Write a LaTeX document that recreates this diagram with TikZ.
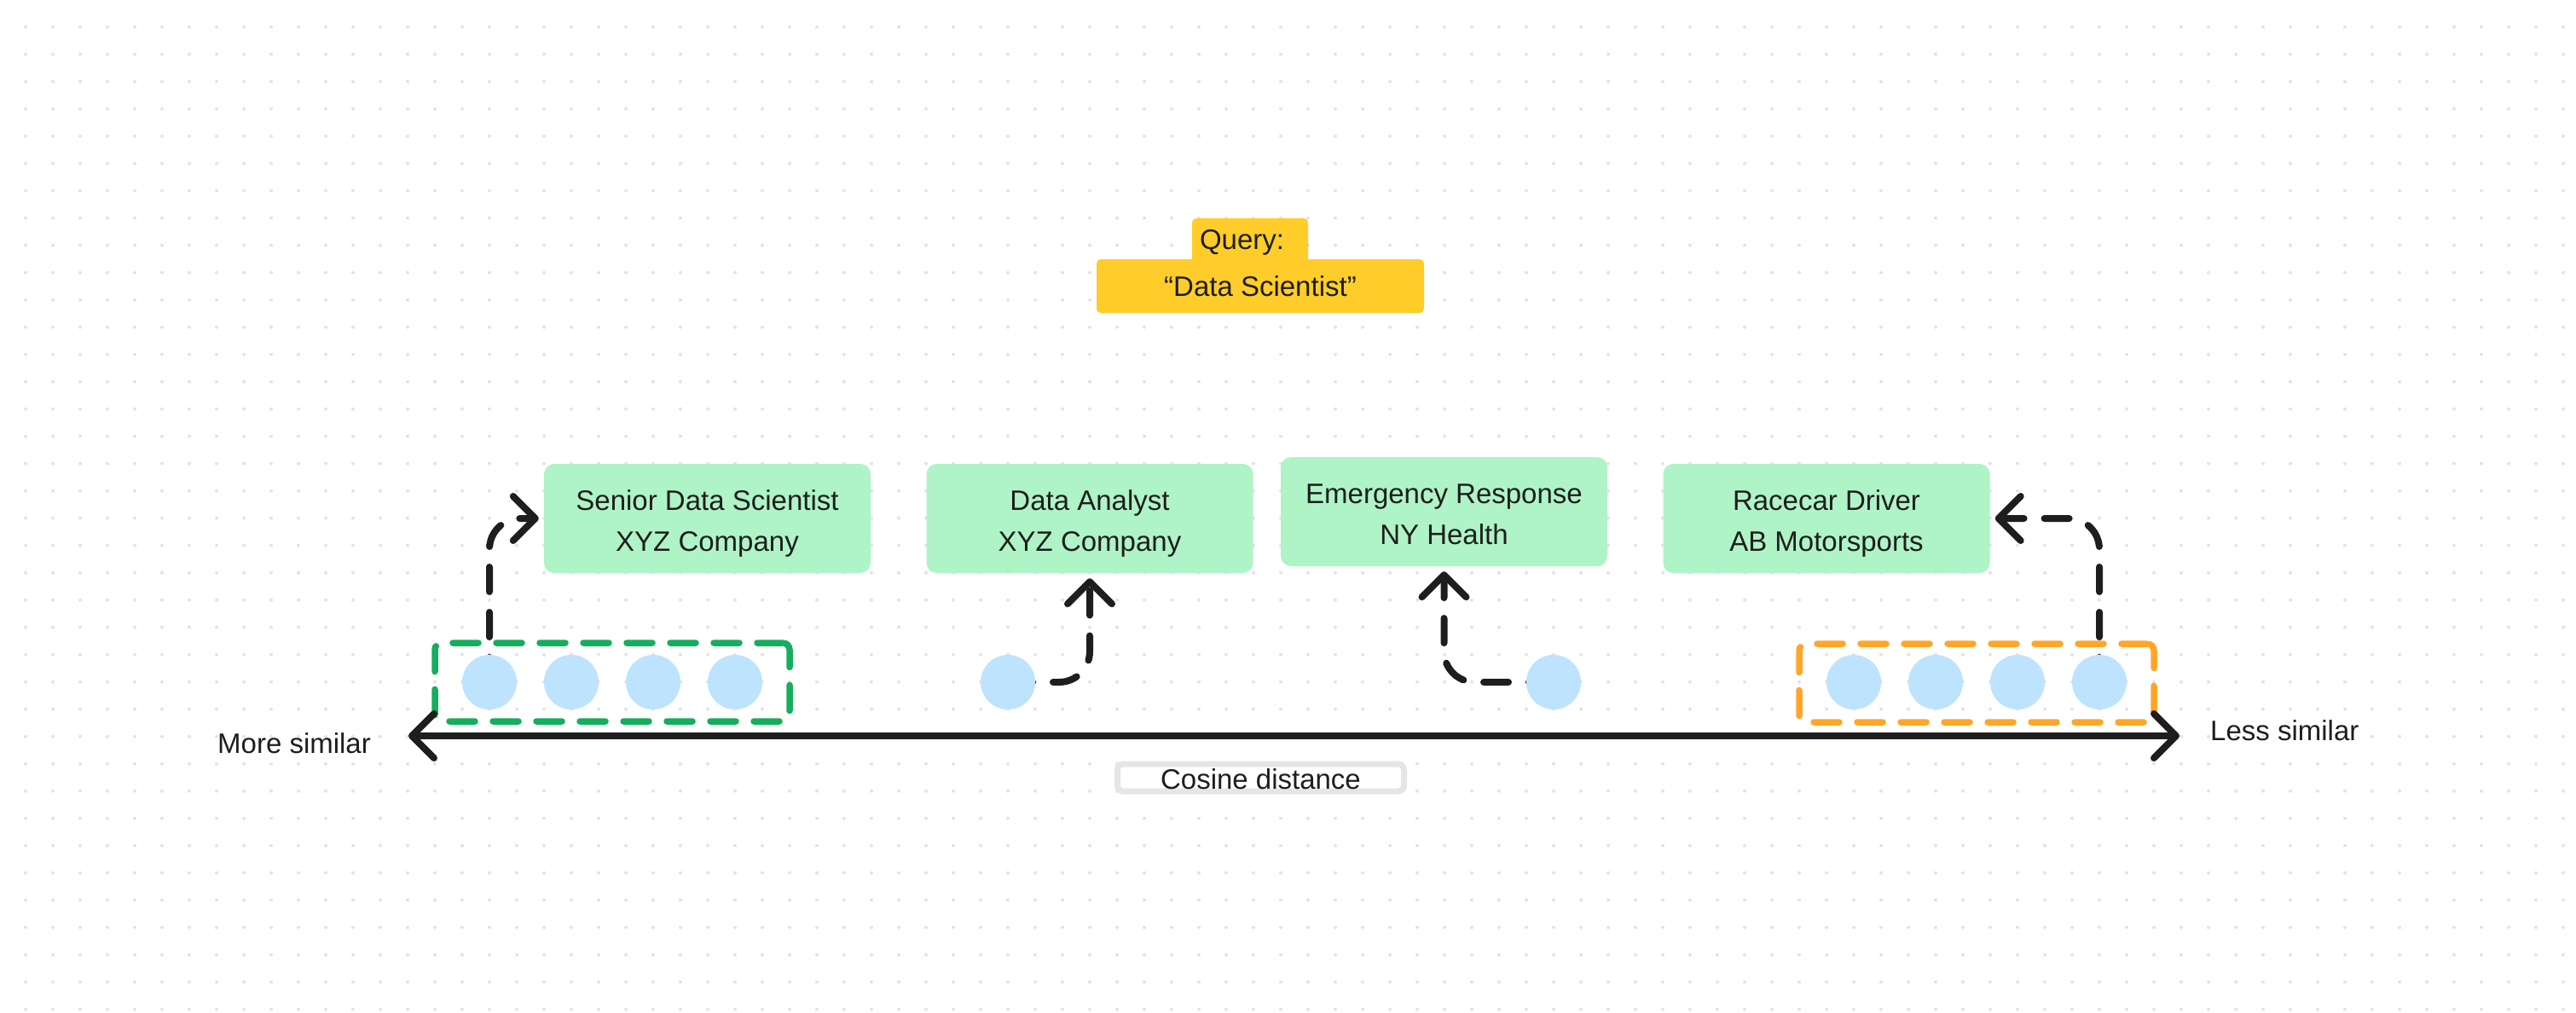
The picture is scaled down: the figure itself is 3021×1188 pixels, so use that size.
\documentclass[tikz,border=0pt]{standalone}
\usepackage{fontspec}
\setmainfont{Liberation Sans}
\usetikzlibrary{arrows.meta}
\definecolor{ink}{HTML}{1E1E1E}
\definecolor{qyellow}{HTML}{FFCD29}
\definecolor{jobgreen}{HTML}{AFF4C6}
\definecolor{vecblue}{HTML}{BDE3FF}
\definecolor{dashgreen}{HTML}{14AE5C}
\definecolor{dashorange}{HTML}{FFA629}
\definecolor{cosgray}{HTML}{E5E5E5}
\definecolor{gridgray}{HTML}{E3E3E3}
\pgfdeclarelayer{bg}
\pgfdeclarelayer{back}
\pgfdeclarelayer{conn}
\pgfsetlayers{bg,back,conn,main}
\newcommand{\jobtxt}[2]{\rule{0pt}{35pt}#1\\#2\rule[-7pt]{0pt}{7pt}}
\tikzset{
  jobbox/.style={fill=jobgreen, rounded corners=12pt, minimum width=383pt, minimum height=128pt, align=center, inner sep=0pt},
  vec/.style={circle, fill=vecblue, minimum size=64pt, inner sep=0pt},
  conn/.style={draw=ink, line width=8pt, line cap=round, dash pattern=on 29pt off 24pt, rounded corners=36pt, -{Straight Barb[length=26pt,width=52pt,round]}, shorten >=6pt},
  groupbox/.style={line width=7.5pt, line cap=round, dash pattern=on 30pt off 21pt, rounded corners=8pt, minimum width=416pt, minimum height=92pt, inner sep=0pt},
  axisline/.style={draw=ink, line width=8pt, {Straight Barb[length=26pt,width=52pt,round]}-{Straight Barb[length=26pt,width=52pt,round]}},
  plainlabel/.style={inner sep=0pt, anchor=base west},
}
\begin{document}
\begin{tikzpicture}[x=1pt, y=-1pt, font=\fontsize{33pt}{48pt}\selectfont, text=ink]
\useasboundingbox (0,0) rectangle (3021,1188);
\begin{pgfonlayer}{bg}
  \fill[white] (0,0) rectangle (3021,1188);
  \fill[gridgray] \foreach \i in {0,...,93}{\foreach \j in {0,...,36}{(30+32*\i, 31.7+32*\j) circle (2pt)}};
\end{pgfonlayer}

% query
\node[fill=qyellow, rounded corners=5pt, minimum width=136pt, minimum height=56pt, text width=118pt, align=left, inner xsep=9pt, inner ysep=0pt] (qlabel) at (1466,284) {Query:};
\node[fill=qyellow, rounded corners=5pt, minimum width=384pt, minimum height=63pt, inner sep=0pt] (qtext) at (1478,335.5) {“Data Scientist”};

% job boxes
\node[jobbox] (senior) at (829.5,608) {\jobtxt{Senior Data Scientist}{XYZ Company}};
\node[jobbox] (analyst) at (1278,608) {\jobtxt{Data Analyst}{XYZ Company}};
\node[jobbox] (emerg) at (1693.5,600) {\jobtxt{Emergency Response}{NY Health}};
\node[jobbox] (race) at (2142,608) {\jobtxt{Racecar Driver}{AB Motorsports}};

% vectors
\node[vec] (g1) at (574,800) {};
\node[vec] (g2) at (670,800) {};
\node[vec] (g3) at (766,800) {};
\node[vec] (g4) at (862,800) {};
\node[vec] (a1) at (1182,800) {};
\node[vec] (e1) at (1822,800) {};
\node[vec] (o1) at (2174,800) {};
\node[vec] (o2) at (2270,800) {};
\node[vec] (o3) at (2366,800) {};
\node[vec] (o4) at (2462,800) {};

\begin{pgfonlayer}{back}
  \node[groupbox, draw=dashgreen] (ggroup) at (718,800) {};
  \node[groupbox, draw=dashorange] (ogroup) at (2318,801) {};
\end{pgfonlayer}

\begin{pgfonlayer}{conn}
  \draw[conn] (g1.center) |- (senior.west);
  \draw[conn] (a1.center) -| (analyst.south);
  \draw[conn] (e1.center) -| (emerg.south);
  \draw[conn] (o4.center) |- (race.east);
\end{pgfonlayer}

% axis
\coordinate (axL) at (479,863);
\coordinate (axR) at (2556,863);
\draw[axisline] (axL) -- (axR);
\node[plainlabel] (more) at (255,883) {More similar};
\node[plainlabel] (less) at (2592,868) {Less similar};
\node[draw=cosgray, line width=7pt, fill=white, rounded corners=7pt, minimum width=336pt, minimum height=32pt, inner sep=0pt, text height=26pt, text depth=0pt] (cos) at (1478.5,912) {Cosine distance};
\end{tikzpicture}
\end{document}
